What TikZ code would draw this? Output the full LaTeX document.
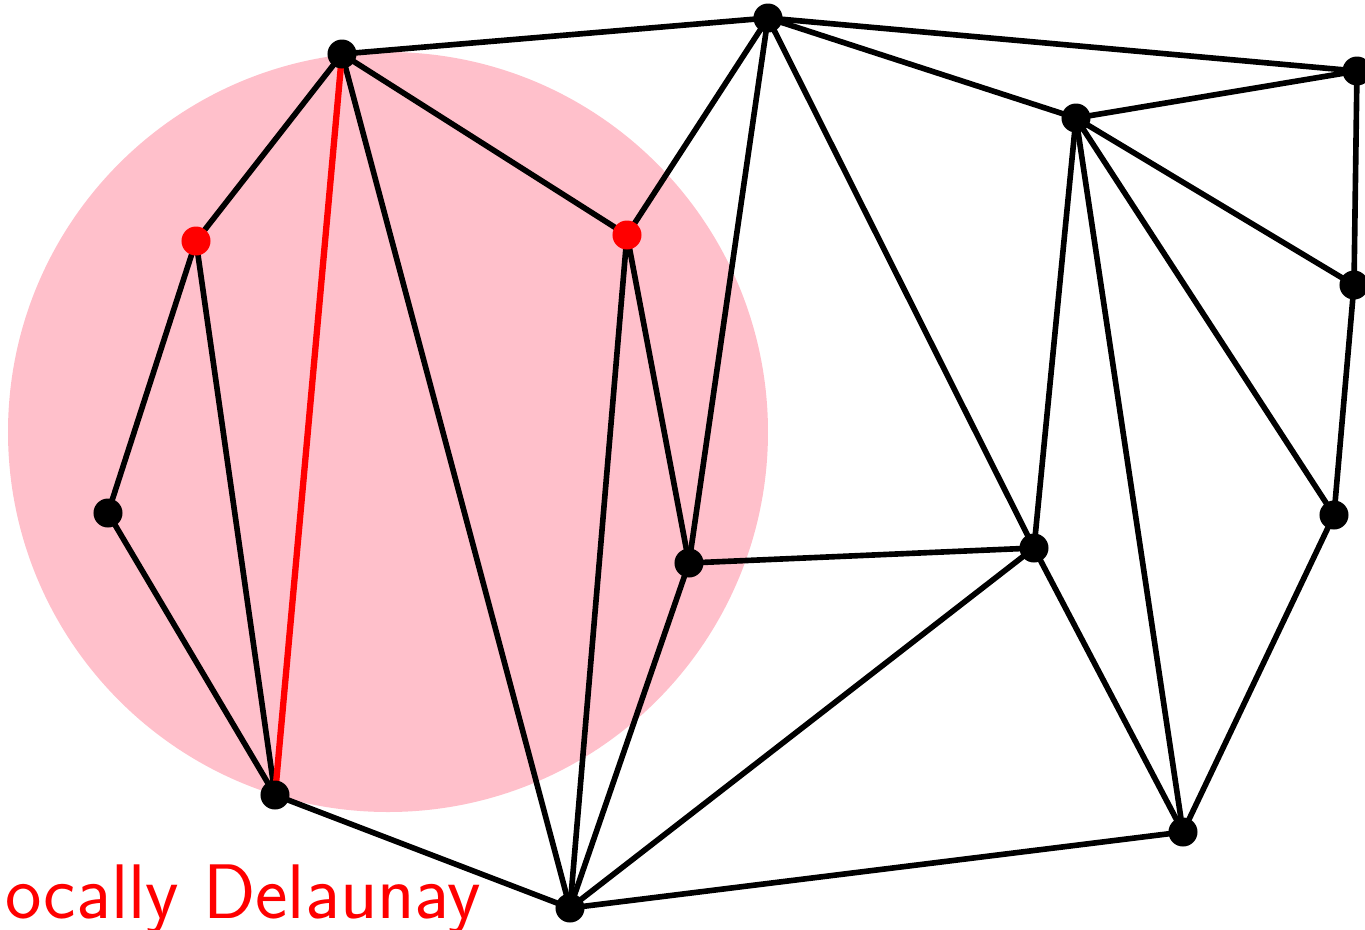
\documentclass[tikz,border=0pt]{standalone}
\usepackage{tikz}
\definecolor{discpink}{RGB}{255,192,203}
\begin{document}
\begin{tikzpicture}[
  x=0.01cm, y=-0.01cm,
  vx/.style={circle, fill=#1, inner sep=0pt, minimum size=2.9mm},
  vx/.default=black,
  edg/.style={line width=1.6pt, draw=black},
  bad/.style={line width=1.8pt, draw=red},
]
\useasboundingbox (0,0) rectangle (1365,929);
% circumcircle
\fill[discpink] (388,432) circle (380);
% vertices
\foreach \n/\x/\y in {a/342/54, b/768/18, c/1357/71, d/1076/118,
    e/196/241, f/627/235, g/1354/285, h/108/513, i/1334/515,
    j/689/563, k/1034/548, l/275/795, m/1183/832, n/570/908} {
  \coordinate (\n) at (\x,\y);
}
% edges
\foreach \p/\q in {a/b, b/c, b/d, d/c, a/e, a/n, a/f, f/b, e/h, e/l,
    h/l, l/n, f/n, f/j, b/j, b/k, j/n, j/k, k/n, d/k, d/m, d/g, d/i,
    c/g, g/i, i/m, k/m, n/m} {
  \draw[edg] (\p) -- (\q);
}
\draw[bad] (a) -- (l);
% dots
\foreach \n in {a,b,c,d,g,h,i,j,k,l,m,n} {
  \node[vx] (v\n) at (\n) {};
}
\node[vx=red] (ve) at (e) {};
\node[vx=red] (vf) at (f) {};
% label
\node[anchor=base east, inner sep=0pt, text=red,
  font=\fontsize{22}{26}\selectfont\sffamily] (lab) at (482,918)
  {locally Delaunay};
\end{tikzpicture}
\end{document}
